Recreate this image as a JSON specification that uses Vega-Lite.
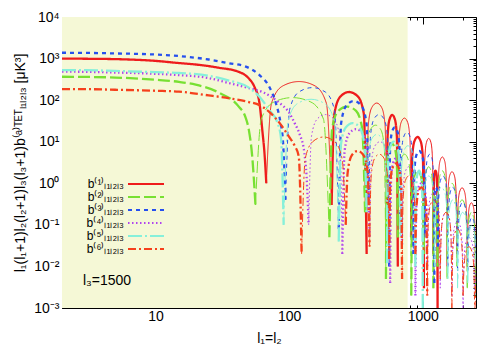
{
"$schema":"https://vega.github.io/schema/vega-lite/v6.json",
"width":414,"height":291,
"autosize":{"type":"none"},
"padding":{"left":62,"top":17,"right":24,"bottom":42},
"background":"white",
"config":{"font":"Liberation Sans","view":{"stroke":null},
 "axis":{"domainColor":"black","tickColor":"black","labelColor":"black","labelFontSize":14,"titleFontSize":14,"titleFontWeight":"normal","titleColor":"black","grid":false}},
"datasets":{
"curves":[
{"s":1,"k":0,"w":1,"x":2,"y":1000},{"s":1,"k":0,"w":1,"x":3,"y":990},{"s":1,"k":0,"w":1,"x":5,"y":970},{"s":1,"k":0,"w":1,"x":10,"y":880},{"s":1,"k":0,"w":1,"x":15,"y":780},{"s":1,"k":0,"w":1,"x":20,"y":720},{"s":1,"k":0,"w":1,"x":30,"y":600},{"s":1,"k":0,"w":1,"x":42,"y":480},{"s":1,"k":0,"w":1,"x":50,"y":330},{"s":1,"k":0,"w":1,"x":55,"y":210},{"s":1,"k":0,"w":1,"x":60,"y":85},{"s":1,"k":0,"w":1,"x":63,"y":19},{"s":1,"k":0,"w":1,"x":65.5,"y":5},{"s":1,"k":0,"w":1,"x":67.5,"y":1},
{"s":1,"k":1,"w":0,"x":67.5,"y":1},{"s":1,"k":1,"w":0,"x":73.8,"y":84},{"s":1,"k":1,"w":0,"x":89.3,"y":218},{"s":1,"k":1,"w":0,"x":118.5,"y":280},{"s":1,"k":1,"w":0,"x":157,"y":218},{"s":1,"k":1,"w":0,"x":190,"y":84},{"s":1,"k":1,"w":0,"x":208,"y":0.3},
{"s":1,"k":2,"w":1,"x":208,"y":0.3},{"s":1,"k":2,"w":1,"x":218,"y":47},{"s":1,"k":2,"w":1,"x":242,"y":122},{"s":1,"k":2,"w":1,"x":281,"y":157},{"s":1,"k":2,"w":1,"x":327,"y":122},{"s":1,"k":2,"w":1,"x":362,"y":47},{"s":1,"k":2,"w":1,"x":380,"y":0.02},
{"s":1,"k":3,"w":0,"x":380,"y":0.02},{"s":1,"k":3,"w":0,"x":391,"y":25.5},{"s":1,"k":3,"w":0,"x":415,"y":66},{"s":1,"k":3,"w":0,"x":452,"y":85},{"s":1,"k":3,"w":0,"x":493,"y":66},{"s":1,"k":3,"w":0,"x":522,"y":25.5},{"s":1,"k":3,"w":0,"x":537,"y":0.15},
{"s":1,"k":4,"w":1,"x":537,"y":0.15},{"s":1,"k":4,"w":1,"x":545,"y":13},{"s":1,"k":4,"w":1,"x":563,"y":34},{"s":1,"k":4,"w":1,"x":591,"y":44},{"s":1,"k":4,"w":1,"x":619,"y":34},{"s":1,"k":4,"w":1,"x":640,"y":13},{"s":1,"k":4,"w":1,"x":650,"y":0.01},
{"s":1,"k":5,"w":0,"x":650,"y":0.01},{"s":1,"k":5,"w":0,"x":662,"y":11},{"s":1,"k":5,"w":0,"x":688,"y":29},{"s":1,"k":5,"w":0,"x":729,"y":37},{"s":1,"k":5,"w":0,"x":771,"y":29},{"s":1,"k":5,"w":0,"x":802,"y":11},{"s":1,"k":5,"w":0,"x":817,"y":0.05},
{"s":1,"k":6,"w":1,"x":817,"y":0.05},{"s":1,"k":6,"w":1,"x":832,"y":3.9},{"s":1,"k":6,"w":1,"x":863,"y":10},{"s":1,"k":6,"w":1,"x":913,"y":13},{"s":1,"k":6,"w":1,"x":966,"y":10},{"s":1,"k":6,"w":1,"x":1002,"y":3.9},{"s":1,"k":6,"w":1,"x":1020,"y":0.003},
{"s":1,"k":7,"w":0,"x":1020,"y":0.003},{"s":1,"k":7,"w":0,"x":1034,"y":3.6},{"s":1,"k":7,"w":0,"x":1063,"y":9.4},{"s":1,"k":7,"w":0,"x":1107,"y":12},{"s":1,"k":7,"w":0,"x":1152,"y":9.4},{"s":1,"k":7,"w":0,"x":1183,"y":3.6},{"s":1,"k":7,"w":0,"x":1200,"y":0.02},
{"s":1,"k":8,"w":1,"x":1200,"y":0.02},{"s":1,"k":8,"w":1,"x":1207,"y":0.6},{"s":1,"k":8,"w":1,"x":1220,"y":1.6},{"s":1,"k":8,"w":1,"x":1244,"y":2},{"s":1,"k":8,"w":1,"x":1268,"y":1.6},{"s":1,"k":8,"w":1,"x":1282,"y":0.6},{"s":1,"k":8,"w":1,"x":1290,"y":0.0005},
{"s":1,"k":9,"w":0,"x":1290,"y":0.0005},{"s":1,"k":9,"w":0,"x":1307,"y":1.3},{"s":1,"k":9,"w":0,"x":1344,"y":3.4},{"s":1,"k":9,"w":0,"x":1400,"y":4.3},{"s":1,"k":9,"w":0,"x":1459,"y":3.4},{"s":1,"k":9,"w":0,"x":1500,"y":1.3},{"s":1,"k":9,"w":0,"x":1520,"y":0.01},
{"s":1,"k":10,"w":0,"x":1520,"y":0.01},{"s":1,"k":10,"w":0,"x":1541,"y":0.57},{"s":1,"k":10,"w":0,"x":1586,"y":1.5},{"s":1,"k":10,"w":0,"x":1654,"y":1.9},{"s":1,"k":10,"w":0,"x":1726,"y":1.5},{"s":1,"k":10,"w":0,"x":1776,"y":0.57},{"s":1,"k":10,"w":0,"x":1800,"y":0.02},
{"s":1,"k":11,"w":0,"x":1800,"y":0.02},{"s":1,"k":11,"w":0,"x":1826,"y":0.23},{"s":1,"k":11,"w":0,"x":1882,"y":0.61},{"s":1,"k":11,"w":0,"x":1968,"y":0.78},{"s":1,"k":11,"w":0,"x":2057,"y":0.61},{"s":1,"k":11,"w":0,"x":2120,"y":0.23},{"s":1,"k":11,"w":0,"x":2150,"y":0.01},
{"s":1,"k":12,"w":0,"x":2150,"y":0.01},{"s":1,"k":12,"w":0,"x":2175,"y":0.1},{"s":1,"k":12,"w":0,"x":2228,"y":0.27},{"s":1,"k":12,"w":0,"x":2309,"y":0.34},{"s":1,"k":12,"w":0,"x":2393,"y":0.27},{"s":1,"k":12,"w":0,"x":2452,"y":0.1},{"s":1,"k":12,"w":0,"x":2480,"y":0.005},{"s":1,"k":12,"w":0,"x":2500,"y":0.02},

{"s":2,"k":0,"w":1,"x":2,"y":365},{"s":2,"k":0,"w":1,"x":3,"y":362},{"s":2,"k":0,"w":1,"x":5,"y":350},{"s":2,"k":0,"w":1,"x":10,"y":310},{"s":2,"k":0,"w":1,"x":15,"y":275},{"s":2,"k":0,"w":1,"x":20,"y":235},{"s":2,"k":0,"w":1,"x":30,"y":150},{"s":2,"k":0,"w":1,"x":42,"y":70},{"s":2,"k":0,"w":1,"x":47,"y":40},{"s":2,"k":0,"w":1,"x":50,"y":19},{"s":2,"k":0,"w":1,"x":53,"y":4.3},{"s":2,"k":0,"w":1,"x":56,"y":0.3},
{"s":2,"k":1,"w":0,"x":56,"y":0.3},{"s":2,"k":1,"w":0,"x":61.9,"y":35},{"s":2,"k":1,"w":0,"x":76.9,"y":90},{"s":2,"k":1,"w":0,"x":105.8,"y":115},{"s":2,"k":1,"w":0,"x":145.5,"y":90},{"s":2,"k":1,"w":0,"x":180.7,"y":35},{"s":2,"k":1,"w":0,"x":200,"y":0.05},
{"s":2,"k":2,"w":1,"x":200,"y":0.05},{"s":2,"k":2,"w":1,"x":210,"y":21},{"s":2,"k":2,"w":1,"x":233,"y":55},{"s":2,"k":2,"w":1,"x":272,"y":70},{"s":2,"k":2,"w":1,"x":317,"y":55},{"s":2,"k":2,"w":1,"x":352,"y":21},{"s":2,"k":2,"w":1,"x":370,"y":0.2},
{"s":2,"k":3,"w":0,"x":370,"y":0.2},{"s":2,"k":3,"w":0,"x":381,"y":7.5},{"s":2,"k":3,"w":0,"x":405,"y":19.5},{"s":2,"k":3,"w":0,"x":443,"y":25},{"s":2,"k":3,"w":0,"x":485,"y":19.5},{"s":2,"k":3,"w":0,"x":515,"y":7.5},{"s":2,"k":3,"w":0,"x":530,"y":0.005},
{"s":2,"k":4,"w":1,"x":530,"y":0.005},{"s":2,"k":4,"w":1,"x":539,"y":2.7},{"s":2,"k":4,"w":1,"x":558,"y":7},{"s":2,"k":4,"w":1,"x":587,"y":9},{"s":2,"k":4,"w":1,"x":618,"y":7},{"s":2,"k":4,"w":1,"x":640,"y":2.7},{"s":2,"k":4,"w":1,"x":650,"y":0.05},
{"s":2,"k":5,"w":0,"x":650,"y":0.05},{"s":2,"k":5,"w":0,"x":662,"y":1.5},{"s":2,"k":5,"w":0,"x":689,"y":3.9},{"s":2,"k":5,"w":0,"x":730,"y":5},{"s":2,"k":5,"w":0,"x":774,"y":3.9},{"s":2,"k":5,"w":0,"x":805,"y":1.5},{"s":2,"k":5,"w":0,"x":820,"y":0.002},
{"s":2,"k":6,"w":1,"x":820,"y":0.002},{"s":2,"k":6,"w":1,"x":834,"y":0.6},{"s":2,"k":6,"w":1,"x":866,"y":1.56},{"s":2,"k":6,"w":1,"x":915,"y":2},{"s":2,"k":6,"w":1,"x":966,"y":1.56},{"s":2,"k":6,"w":1,"x":1002,"y":0.6},{"s":2,"k":6,"w":1,"x":1020,"y":0.02},
{"s":2,"k":7,"w":0,"x":1020,"y":0.02},{"s":2,"k":7,"w":0,"x":1034,"y":0.75},{"s":2,"k":7,"w":0,"x":1063,"y":2},{"s":2,"k":7,"w":0,"x":1107,"y":2.5},{"s":2,"k":7,"w":0,"x":1152,"y":2},{"s":2,"k":7,"w":0,"x":1183,"y":0.75},{"s":2,"k":7,"w":0,"x":1200,"y":0.003},
{"s":2,"k":8,"w":1,"x":1200,"y":0.003},{"s":2,"k":8,"w":1,"x":1207,"y":0.15},{"s":2,"k":8,"w":1,"x":1220,"y":0.4},{"s":2,"k":8,"w":1,"x":1244,"y":0.5},{"s":2,"k":8,"w":1,"x":1268,"y":0.4},{"s":2,"k":8,"w":1,"x":1282,"y":0.15},{"s":2,"k":8,"w":1,"x":1290,"y":0.01},
{"s":2,"k":9,"w":0,"x":1290,"y":0.01},{"s":2,"k":9,"w":0,"x":1307,"y":0.6},{"s":2,"k":9,"w":0,"x":1344,"y":1.56},{"s":2,"k":9,"w":0,"x":1400,"y":2},{"s":2,"k":9,"w":0,"x":1459,"y":1.56},{"s":2,"k":9,"w":0,"x":1500,"y":0.6},{"s":2,"k":9,"w":0,"x":1520,"y":0.005},
{"s":2,"k":10,"w":0,"x":1520,"y":0.005},{"s":2,"k":10,"w":0,"x":1541,"y":0.3},{"s":2,"k":10,"w":0,"x":1586,"y":0.78},{"s":2,"k":10,"w":0,"x":1654,"y":1},{"s":2,"k":10,"w":0,"x":1726,"y":0.78},{"s":2,"k":10,"w":0,"x":1776,"y":0.3},{"s":2,"k":10,"w":0,"x":1800,"y":0.01},
{"s":2,"k":11,"w":0,"x":1800,"y":0.01},{"s":2,"k":11,"w":0,"x":1826,"y":0.12},{"s":2,"k":11,"w":0,"x":1882,"y":0.31},{"s":2,"k":11,"w":0,"x":1968,"y":0.4},{"s":2,"k":11,"w":0,"x":2057,"y":0.31},{"s":2,"k":11,"w":0,"x":2120,"y":0.12},{"s":2,"k":11,"w":0,"x":2150,"y":0.003},
{"s":2,"k":12,"w":0,"x":2150,"y":0.003},{"s":2,"k":12,"w":0,"x":2175,"y":0.06},{"s":2,"k":12,"w":0,"x":2228,"y":0.156},{"s":2,"k":12,"w":0,"x":2309,"y":0.2},{"s":2,"k":12,"w":0,"x":2393,"y":0.156},{"s":2,"k":12,"w":0,"x":2452,"y":0.06},{"s":2,"k":12,"w":0,"x":2480,"y":0.002},{"s":2,"k":12,"w":0,"x":2500,"y":0.01},

{"s":3,"k":0,"w":1,"x":2,"y":1380},{"s":3,"k":0,"w":1,"x":3,"y":1370},{"s":3,"k":0,"w":1,"x":5,"y":1330},{"s":3,"k":0,"w":1,"x":10,"y":1250},{"s":3,"k":0,"w":1,"x":15,"y":1150},{"s":3,"k":0,"w":1,"x":25,"y":950},{"s":3,"k":0,"w":1,"x":35,"y":780},{"s":3,"k":0,"w":1,"x":48,"y":630},{"s":3,"k":0,"w":1,"x":60,"y":400},{"s":3,"k":0,"w":1,"x":71,"y":210},{"s":3,"k":0,"w":1,"x":80,"y":80},{"s":3,"k":0,"w":1,"x":86,"y":30},{"s":3,"k":0,"w":1,"x":90,"y":10},{"s":3,"k":0,"w":1,"x":94,"y":0.4},
{"s":3,"k":1,"w":0,"x":94,"y":0.4},{"s":3,"k":1,"w":0,"x":101,"y":60},{"s":3,"k":1,"w":0,"x":118,"y":156},{"s":3,"k":1,"w":0,"x":149,"y":200},{"s":3,"k":1,"w":0,"x":187,"y":156},{"s":3,"k":1,"w":0,"x":218,"y":60},{"s":3,"k":1,"w":0,"x":235,"y":0.08},
{"s":3,"k":2,"w":1,"x":235,"y":0.08},{"s":3,"k":2,"w":1,"x":245,"y":28},{"s":3,"k":2,"w":1,"x":268,"y":74},{"s":3,"k":2,"w":1,"x":305,"y":95},{"s":3,"k":2,"w":1,"x":347,"y":74},{"s":3,"k":2,"w":1,"x":379,"y":28},{"s":3,"k":2,"w":1,"x":395,"y":0.3},
{"s":3,"k":3,"w":0,"x":395,"y":0.3},{"s":3,"k":3,"w":0,"x":406,"y":13.5},{"s":3,"k":3,"w":0,"x":431,"y":35},{"s":3,"k":3,"w":0,"x":470,"y":45},{"s":3,"k":3,"w":0,"x":513,"y":35},{"s":3,"k":3,"w":0,"x":545,"y":13.5},{"s":3,"k":3,"w":0,"x":560,"y":0.01},
{"s":3,"k":4,"w":1,"x":560,"y":0.01},{"s":3,"k":4,"w":1,"x":569,"y":6.6},{"s":3,"k":4,"w":1,"x":588,"y":17},{"s":3,"k":4,"w":1,"x":617,"y":22},{"s":3,"k":4,"w":1,"x":648,"y":17},{"s":3,"k":4,"w":1,"x":670,"y":6.6},{"s":3,"k":4,"w":1,"x":680,"y":0.1},
{"s":3,"k":5,"w":0,"x":680,"y":0.1},{"s":3,"k":5,"w":0,"x":692,"y":5},{"s":3,"k":5,"w":0,"x":719,"y":13},{"s":3,"k":5,"w":0,"x":760,"y":17},{"s":3,"k":5,"w":0,"x":804,"y":13},{"s":3,"k":5,"w":0,"x":835,"y":5},{"s":3,"k":5,"w":0,"x":850,"y":0.02},
{"s":3,"k":6,"w":1,"x":850,"y":0.02},{"s":3,"k":6,"w":1,"x":864,"y":1.8},{"s":3,"k":6,"w":1,"x":894,"y":4.7},{"s":3,"k":6,"w":1,"x":940,"y":6},{"s":3,"k":6,"w":1,"x":989,"y":4.7},{"s":3,"k":6,"w":1,"x":1023,"y":1.8},{"s":3,"k":6,"w":1,"x":1040,"y":0.05},
{"s":3,"k":7,"w":0,"x":1040,"y":0.05},{"s":3,"k":7,"w":0,"x":1053,"y":1.5},{"s":3,"k":7,"w":0,"x":1082,"y":3.9},{"s":3,"k":7,"w":0,"x":1126,"y":5},{"s":3,"k":7,"w":0,"x":1172,"y":3.9},{"s":3,"k":7,"w":0,"x":1204,"y":1.5},{"s":3,"k":7,"w":0,"x":1220,"y":0.004},
{"s":3,"k":8,"w":1,"x":1220,"y":0.004},{"s":3,"k":8,"w":1,"x":1226,"y":0.24},{"s":3,"k":8,"w":1,"x":1237,"y":0.62},{"s":3,"k":8,"w":1,"x":1259,"y":0.8},{"s":3,"k":8,"w":1,"x":1281,"y":0.62},{"s":3,"k":8,"w":1,"x":1293,"y":0.24},{"s":3,"k":8,"w":1,"x":1300,"y":0.03},
{"s":3,"k":9,"w":0,"x":1300,"y":0.03},{"s":3,"k":9,"w":0,"x":1318,"y":0.45},{"s":3,"k":9,"w":0,"x":1356,"y":1.17},{"s":3,"k":9,"w":0,"x":1415,"y":1.5},{"s":3,"k":9,"w":0,"x":1476,"y":1.17},{"s":3,"k":9,"w":0,"x":1519,"y":0.45},{"s":3,"k":9,"w":0,"x":1540,"y":0.01},
{"s":3,"k":10,"w":0,"x":1540,"y":0.01},{"s":3,"k":10,"w":0,"x":1561,"y":0.24},{"s":3,"k":10,"w":0,"x":1606,"y":0.62},{"s":3,"k":10,"w":0,"x":1674,"y":0.8},{"s":3,"k":10,"w":0,"x":1746,"y":0.62},{"s":3,"k":10,"w":0,"x":1796,"y":0.24},{"s":3,"k":10,"w":0,"x":1820,"y":0.005},
{"s":3,"k":11,"w":0,"x":1820,"y":0.005},{"s":3,"k":11,"w":0,"x":1846,"y":0.1},{"s":3,"k":11,"w":0,"x":1902,"y":0.27},{"s":3,"k":11,"w":0,"x":1988,"y":0.35},{"s":3,"k":11,"w":0,"x":2077,"y":0.27},{"s":3,"k":11,"w":0,"x":2140,"y":0.1},{"s":3,"k":11,"w":0,"x":2170,"y":0.008},
{"s":3,"k":12,"w":0,"x":2170,"y":0.008},{"s":3,"k":12,"w":0,"x":2196,"y":0.045},{"s":3,"k":12,"w":0,"x":2250,"y":0.12},{"s":3,"k":12,"w":0,"x":2330,"y":0.15},{"s":3,"k":12,"w":0,"x":2413,"y":0.12},{"s":3,"k":12,"w":0,"x":2470,"y":0.045},{"s":3,"k":12,"w":0,"x":2500,"y":0.02},

{"s":4,"k":0,"w":1,"x":2,"y":485},{"s":4,"k":0,"w":1,"x":3,"y":480},{"s":4,"k":0,"w":1,"x":5,"y":462},{"s":4,"k":0,"w":1,"x":10,"y":430},{"s":4,"k":0,"w":1,"x":15,"y":400},{"s":4,"k":0,"w":1,"x":25,"y":340},{"s":4,"k":0,"w":1,"x":35,"y":260},{"s":4,"k":0,"w":1,"x":50,"y":195},{"s":4,"k":0,"w":1,"x":65,"y":150},{"s":4,"k":0,"w":1,"x":85,"y":85},{"s":4,"k":0,"w":1,"x":100,"y":50},{"s":4,"k":0,"w":1,"x":110,"y":28},{"s":4,"k":0,"w":1,"x":120,"y":15},{"s":4,"k":0,"w":1,"x":130,"y":5.4},{"s":4,"k":0,"w":1,"x":135,"y":1.5},{"s":4,"k":0,"w":1,"x":140,"y":0.1},
{"s":4,"k":1,"w":0,"x":140,"y":0.1},{"s":4,"k":1,"w":0,"x":147,"y":13.5},{"s":4,"k":1,"w":0,"x":162,"y":35},{"s":4,"k":1,"w":0,"x":187,"y":45},{"s":4,"k":1,"w":0,"x":216,"y":35},{"s":4,"k":1,"w":0,"x":239,"y":13.5},{"s":4,"k":1,"w":0,"x":250,"y":0.02},
{"s":4,"k":2,"w":1,"x":250,"y":0.02},{"s":4,"k":2,"w":1,"x":260,"y":6},{"s":4,"k":2,"w":1,"x":281,"y":15.6},{"s":4,"k":2,"w":1,"x":316,"y":20},{"s":4,"k":2,"w":1,"x":356,"y":15.6},{"s":4,"k":2,"w":1,"x":385,"y":6},{"s":4,"k":2,"w":1,"x":400,"y":0.05},
{"s":4,"k":3,"w":0,"x":400,"y":0.05},{"s":4,"k":3,"w":0,"x":412,"y":3},{"s":4,"k":3,"w":0,"x":437,"y":7.8},{"s":4,"k":3,"w":0,"x":478,"y":10},{"s":4,"k":3,"w":0,"x":522,"y":7.8},{"s":4,"k":3,"w":0,"x":554,"y":3},{"s":4,"k":3,"w":0,"x":570,"y":0.004},
{"s":4,"k":4,"w":1,"x":570,"y":0.004},{"s":4,"k":4,"w":1,"x":579,"y":1.2},{"s":4,"k":4,"w":1,"x":600,"y":3.1},{"s":4,"k":4,"w":1,"x":632,"y":4},{"s":4,"k":4,"w":1,"x":665,"y":3.1},{"s":4,"k":4,"w":1,"x":689,"y":1.2},{"s":4,"k":4,"w":1,"x":700,"y":0.03},
{"s":4,"k":5,"w":0,"x":700,"y":0.03},{"s":4,"k":5,"w":0,"x":713,"y":0.75},{"s":4,"k":5,"w":0,"x":741,"y":1.95},{"s":4,"k":5,"w":0,"x":785,"y":2.5},{"s":4,"k":5,"w":0,"x":831,"y":1.95},{"s":4,"k":5,"w":0,"x":864,"y":0.75},{"s":4,"k":5,"w":0,"x":880,"y":0.002},
{"s":4,"k":6,"w":1,"x":880,"y":0.002},{"s":4,"k":6,"w":1,"x":894,"y":0.3},{"s":4,"k":6,"w":1,"x":926,"y":0.78},{"s":4,"k":6,"w":1,"x":975,"y":1},{"s":4,"k":6,"w":1,"x":1026,"y":0.78},{"s":4,"k":6,"w":1,"x":1062,"y":0.3},{"s":4,"k":6,"w":1,"x":1080,"y":0.01},
{"s":4,"k":7,"w":0,"x":1080,"y":0.01},{"s":4,"k":7,"w":0,"x":1100,"y":0.18},{"s":4,"k":7,"w":0,"x":1142,"y":0.47},{"s":4,"k":7,"w":0,"x":1207,"y":0.6},{"s":4,"k":7,"w":0,"x":1277,"y":0.47},{"s":4,"k":7,"w":0,"x":1326,"y":0.18},{"s":4,"k":7,"w":0,"x":1350,"y":0.003},
{"s":4,"k":8,"w":0,"x":1350,"y":0.003},{"s":4,"k":8,"w":0,"x":1372,"y":0.06},{"s":4,"k":8,"w":0,"x":1419,"y":0.156},{"s":4,"k":8,"w":0,"x":1492,"y":0.2},{"s":4,"k":8,"w":0,"x":1569,"y":0.156},{"s":4,"k":8,"w":0,"x":1623,"y":0.06},{"s":4,"k":8,"w":0,"x":1650,"y":0.002},
{"s":4,"k":9,"w":0,"x":1650,"y":0.002},{"s":4,"k":9,"w":0,"x":1676,"y":0.036},{"s":4,"k":9,"w":0,"x":1732,"y":0.094},{"s":4,"k":9,"w":0,"x":1817,"y":0.12},{"s":4,"k":9,"w":0,"x":1906,"y":0.094},{"s":4,"k":9,"w":0,"x":1970,"y":0.036},{"s":4,"k":9,"w":0,"x":2000,"y":0.001},
{"s":4,"k":10,"w":0,"x":2000,"y":0.001},{"s":4,"k":10,"w":0,"x":2033,"y":0.015},{"s":4,"k":10,"w":0,"x":2104,"y":0.039},{"s":4,"k":10,"w":0,"x":2214,"y":0.05},{"s":4,"k":10,"w":0,"x":2329,"y":0.039},{"s":4,"k":10,"w":0,"x":2410,"y":0.015},{"s":4,"k":10,"w":0,"x":2450,"y":0.002},{"s":4,"k":10,"w":0,"x":2500,"y":0.01},

{"s":5,"k":0,"w":1,"x":2,"y":530},{"s":5,"k":0,"w":1,"x":3,"y":525},{"s":5,"k":0,"w":1,"x":5,"y":505},{"s":5,"k":0,"w":1,"x":10,"y":470},{"s":5,"k":0,"w":1,"x":15,"y":450},{"s":5,"k":0,"w":1,"x":25,"y":385},{"s":5,"k":0,"w":1,"x":35,"y":300},{"s":5,"k":0,"w":1,"x":50,"y":200},{"s":5,"k":0,"w":1,"x":60,"y":120},{"s":5,"k":0,"w":1,"x":71,"y":58},{"s":5,"k":0,"w":1,"x":82,"y":28},{"s":5,"k":0,"w":1,"x":87,"y":12},{"s":5,"k":0,"w":1,"x":91,"y":0.1},
{"s":5,"k":1,"w":0,"x":91,"y":0.1},{"s":5,"k":1,"w":0,"x":98.2,"y":31.5},{"s":5,"k":1,"w":0,"x":115,"y":82},{"s":5,"k":1,"w":0,"x":146,"y":105},{"s":5,"k":1,"w":0,"x":185,"y":82},{"s":5,"k":1,"w":0,"x":218,"y":31.5},{"s":5,"k":1,"w":0,"x":235,"y":0.04},
{"s":5,"k":2,"w":1,"x":235,"y":0.04},{"s":5,"k":2,"w":1,"x":244,"y":8.4},{"s":5,"k":2,"w":1,"x":265,"y":22},{"s":5,"k":2,"w":1,"x":299,"y":28},{"s":5,"k":2,"w":1,"x":337,"y":22},{"s":5,"k":2,"w":1,"x":366,"y":8.4},{"s":5,"k":2,"w":1,"x":380,"y":0.2},
{"s":5,"k":3,"w":0,"x":380,"y":0.2},{"s":5,"k":3,"w":0,"x":391,"y":4.5},{"s":5,"k":3,"w":0,"x":415,"y":11.7},{"s":5,"k":3,"w":0,"x":453,"y":15},{"s":5,"k":3,"w":0,"x":495,"y":11.7},{"s":5,"k":3,"w":0,"x":525,"y":4.5},{"s":5,"k":3,"w":0,"x":540,"y":0.012},
{"s":5,"k":4,"w":1,"x":540,"y":0.012},{"s":5,"k":4,"w":1,"x":550,"y":3},{"s":5,"k":4,"w":1,"x":572,"y":7.8},{"s":5,"k":4,"w":1,"x":606,"y":10},{"s":5,"k":4,"w":1,"x":642,"y":7.8},{"s":5,"k":4,"w":1,"x":668,"y":3},{"s":5,"k":4,"w":1,"x":680,"y":0.05},
{"s":5,"k":5,"w":0,"x":680,"y":0.05},{"s":5,"k":5,"w":0,"x":694,"y":2.4},{"s":5,"k":5,"w":0,"x":725,"y":6.2},{"s":5,"k":5,"w":0,"x":773,"y":8},{"s":5,"k":5,"w":0,"x":825,"y":6.2},{"s":5,"k":5,"w":0,"x":862,"y":2.4},{"s":5,"k":5,"w":0,"x":880,"y":0.01},
{"s":5,"k":6,"w":1,"x":880,"y":0.01},{"s":5,"k":6,"w":1,"x":889,"y":0.6},{"s":5,"k":6,"w":1,"x":908,"y":1.56},{"s":5,"k":6,"w":1,"x":938,"y":2},{"s":5,"k":6,"w":1,"x":969,"y":1.56},{"s":5,"k":6,"w":1,"x":990,"y":0.6},{"s":5,"k":6,"w":1,"x":1000,"y":0.001},
{"s":5,"k":7,"w":0,"x":1000,"y":0.001},{"s":5,"k":7,"w":0,"x":1017,"y":0.45},{"s":5,"k":7,"w":0,"x":1053,"y":1.17},{"s":5,"k":7,"w":0,"x":1109,"y":1.5},{"s":5,"k":7,"w":0,"x":1168,"y":1.17},{"s":5,"k":7,"w":0,"x":1210,"y":0.45},{"s":5,"k":7,"w":0,"x":1230,"y":0.01},
{"s":5,"k":8,"w":0,"x":1230,"y":0.01},{"s":5,"k":8,"w":0,"x":1252,"y":0.24},{"s":5,"k":8,"w":0,"x":1301,"y":0.62},{"s":5,"k":8,"w":0,"x":1376,"y":0.8},{"s":5,"k":8,"w":0,"x":1456,"y":0.62},{"s":5,"k":8,"w":0,"x":1512,"y":0.24},{"s":5,"k":8,"w":0,"x":1540,"y":0.005},
{"s":5,"k":9,"w":0,"x":1540,"y":0.005},{"s":5,"k":9,"w":0,"x":1561,"y":0.12},{"s":5,"k":9,"w":0,"x":1606,"y":0.31},{"s":5,"k":9,"w":0,"x":1674,"y":0.4},{"s":5,"k":9,"w":0,"x":1746,"y":0.31},{"s":5,"k":9,"w":0,"x":1796,"y":0.12},{"s":5,"k":9,"w":0,"x":1820,"y":0.003},
{"s":5,"k":10,"w":0,"x":1820,"y":0.003},{"s":5,"k":10,"w":0,"x":1846,"y":0.06},{"s":5,"k":10,"w":0,"x":1902,"y":0.156},{"s":5,"k":10,"w":0,"x":1988,"y":0.2},{"s":5,"k":10,"w":0,"x":2077,"y":0.156},{"s":5,"k":10,"w":0,"x":2140,"y":0.06},{"s":5,"k":10,"w":0,"x":2170,"y":0.004},
{"s":5,"k":11,"w":0,"x":2170,"y":0.004},{"s":5,"k":11,"w":0,"x":2196,"y":0.03},{"s":5,"k":11,"w":0,"x":2250,"y":0.078},{"s":5,"k":11,"w":0,"x":2330,"y":0.1},{"s":5,"k":11,"w":0,"x":2413,"y":0.078},{"s":5,"k":11,"w":0,"x":2470,"y":0.03},{"s":5,"k":11,"w":0,"x":2500,"y":0.01},

{"s":6,"k":0,"w":1,"x":2,"y":185},{"s":6,"k":0,"w":1,"x":3,"y":184},{"s":6,"k":0,"w":1,"x":5,"y":178},{"s":6,"k":0,"w":1,"x":10,"y":168},{"s":6,"k":0,"w":1,"x":15,"y":160},{"s":6,"k":0,"w":1,"x":25,"y":130},{"s":6,"k":0,"w":1,"x":36,"y":110},{"s":6,"k":0,"w":1,"x":50,"y":90},{"s":6,"k":0,"w":1,"x":60,"y":76},{"s":6,"k":0,"w":1,"x":71,"y":52},{"s":6,"k":0,"w":1,"x":85,"y":28},{"s":6,"k":0,"w":1,"x":100,"y":13},{"s":6,"k":0,"w":1,"x":110,"y":8},{"s":6,"k":0,"w":1,"x":118,"y":4.5},{"s":6,"k":0,"w":1,"x":124,"y":0.02},
{"s":6,"k":1,"w":0,"x":124,"y":0.02},{"s":6,"k":1,"w":0,"x":132,"y":3.9},{"s":6,"k":1,"w":0,"x":150,"y":10},{"s":6,"k":1,"w":0,"x":181,"y":13},{"s":6,"k":1,"w":0,"x":219,"y":10},{"s":6,"k":1,"w":0,"x":249,"y":3.9},{"s":6,"k":1,"w":0,"x":265,"y":0.1},
{"s":6,"k":2,"w":1,"x":265,"y":0.1},{"s":6,"k":2,"w":1,"x":274,"y":1.8},{"s":6,"k":2,"w":1,"x":294,"y":4.7},{"s":6,"k":2,"w":1,"x":326,"y":6},{"s":6,"k":2,"w":1,"x":361,"y":4.7},{"s":6,"k":2,"w":1,"x":387,"y":1.8},{"s":6,"k":2,"w":1,"x":400,"y":0.03},
{"s":6,"k":3,"w":0,"x":400,"y":0.03},{"s":6,"k":3,"w":0,"x":411,"y":1.5},{"s":6,"k":3,"w":0,"x":435,"y":3.9},{"s":6,"k":3,"w":0,"x":473,"y":5},{"s":6,"k":3,"w":0,"x":515,"y":3.9},{"s":6,"k":3,"w":0,"x":545,"y":1.5},{"s":6,"k":3,"w":0,"x":560,"y":0.015},
{"s":6,"k":4,"w":1,"x":560,"y":0.015},{"s":6,"k":4,"w":1,"x":570,"y":0.9},{"s":6,"k":4,"w":1,"x":592,"y":2.3},{"s":6,"k":4,"w":1,"x":626,"y":3},{"s":6,"k":4,"w":1,"x":662,"y":2.3},{"s":6,"k":4,"w":1,"x":688,"y":0.9},{"s":6,"k":4,"w":1,"x":700,"y":0.005},
{"s":6,"k":5,"w":0,"x":700,"y":0.005},{"s":6,"k":5,"w":0,"x":713,"y":0.45},{"s":6,"k":5,"w":0,"x":741,"y":1.17},{"s":6,"k":5,"w":0,"x":785,"y":1.5},{"s":6,"k":5,"w":0,"x":831,"y":1.17},{"s":6,"k":5,"w":0,"x":864,"y":0.45},{"s":6,"k":5,"w":0,"x":880,"y":0.02},
{"s":6,"k":6,"w":1,"x":880,"y":0.02},{"s":6,"k":6,"w":1,"x":894,"y":0.24},{"s":6,"k":6,"w":1,"x":926,"y":0.62},{"s":6,"k":6,"w":1,"x":975,"y":0.8},{"s":6,"k":6,"w":1,"x":1026,"y":0.62},{"s":6,"k":6,"w":1,"x":1062,"y":0.24},{"s":6,"k":6,"w":1,"x":1080,"y":0.002},
{"s":6,"k":7,"w":0,"x":1080,"y":0.002},{"s":6,"k":7,"w":0,"x":1100,"y":0.12},{"s":6,"k":7,"w":0,"x":1142,"y":0.31},{"s":6,"k":7,"w":0,"x":1207,"y":0.4},{"s":6,"k":7,"w":0,"x":1277,"y":0.31},{"s":6,"k":7,"w":0,"x":1326,"y":0.12},{"s":6,"k":7,"w":0,"x":1350,"y":0.005},
{"s":6,"k":8,"w":0,"x":1350,"y":0.005},{"s":6,"k":8,"w":0,"x":1372,"y":0.06},{"s":6,"k":8,"w":0,"x":1419,"y":0.156},{"s":6,"k":8,"w":0,"x":1492,"y":0.2},{"s":6,"k":8,"w":0,"x":1569,"y":0.156},{"s":6,"k":8,"w":0,"x":1623,"y":0.06},{"s":6,"k":8,"w":0,"x":1650,"y":0.001},
{"s":6,"k":9,"w":0,"x":1650,"y":0.001},{"s":6,"k":9,"w":0,"x":1676,"y":0.024},{"s":6,"k":9,"w":0,"x":1732,"y":0.062},{"s":6,"k":9,"w":0,"x":1817,"y":0.08},{"s":6,"k":9,"w":0,"x":1906,"y":0.062},{"s":6,"k":9,"w":0,"x":1970,"y":0.024},{"s":6,"k":9,"w":0,"x":2000,"y":0.002},
{"s":6,"k":10,"w":0,"x":2000,"y":0.002},{"s":6,"k":10,"w":0,"x":2033,"y":0.009},{"s":6,"k":10,"w":0,"x":2104,"y":0.023},{"s":6,"k":10,"w":0,"x":2214,"y":0.03},{"s":6,"k":10,"w":0,"x":2329,"y":0.023},{"s":6,"k":10,"w":0,"x":2410,"y":0.009},{"s":6,"k":10,"w":0,"x":2450,"y":0.001},{"s":6,"k":10,"w":0,"x":2500,"y":0.005}
]},
"layer":[
{"data":{"values":[{"x1":2,"x2":770,"y1":0.001,"y2":10000}]},
 "mark":{"type":"rect","color":"#f5f8d6","clip":true},
 "encoding":{
  "x":{"field":"x1","type":"quantitative","scale":{"type":"log","domain":[2,2500],"nice":false},
   "axis":{"orient":"bottom","title":"l₁=l₂","titlePadding":4,"values":[2,3,4,5,6,7,8,9,10,20,30,40,50,60,70,80,90,100,200,300,400,500,600,700,800,900,1000,2000],
    "labelExpr":"datum.value == 10 || datum.value == 100 || datum.value == 1000 ? format(datum.value, 'd') : ''",
    "tickSize":{"condition":{"test":"datum.value == 10 || datum.value == 100 || datum.value == 1000","value":-7},"value":-3},
    "labelPadding":8,"labelFlush":false,"labelOverlap":false}},
  "x2":{"field":"x2"},
  "y":{"field":"y1","type":"quantitative","scale":{"type":"log","domain":[0.001,10000],"nice":false},
   "axis":{"orient":"left","title":"l₁(l₁+1)l₂(l₂+1)l₃(l₃+1)b⁽ᵃ⁾ᵀᴱᵀₗ₁ₗ₂ₗ₃ [μK³]","titlePadding":6,
    "values":[0.001,0.002,0.003,0.004,0.005,0.006,0.007,0.008,0.009,0.01,0.02,0.03,0.04,0.05,0.06,0.07,0.08,0.09,0.1,0.2,0.3,0.4,0.5,0.6,0.7,0.8,0.9,1,2,3,4,5,6,7,8,9,10,20,30,40,50,60,70,80,90,100,200,300,400,500,600,700,800,900,1000,2000,3000,4000,5000,6000,7000,8000,9000,10000],
    "labelExpr":"abs(log(datum.value)/LN10 - round(log(datum.value)/LN10)) < 0.001 ? '10' + ['⁻³','⁻²','⁻¹','⁰','¹','²','³','⁴'][round(log(datum.value)/LN10)+3] : ''",
    "tickSize":{"condition":{"test":"abs(log(datum.value)/LN10 - round(log(datum.value)/LN10)) < 0.001","value":-7},"value":-3},
    "labelPadding":10,"labelFlush":false,"labelOverlap":false}},
  "y2":{"field":"y2"}}},
{"data":{"name":"curves"},
 "mark":{"type":"line","clip":true,"interpolate":"monotone"},
 "encoding":{
  "x":{"field":"x","type":"quantitative","scale":{"type":"log","domain":[2,2500],"nice":false},"axis":null},
  "y":{"field":"y","type":"quantitative","scale":{"type":"log","domain":[0.001,10000],"nice":false},"axis":null},
  "color":{"field":"s","type":"nominal","scale":{"domain":[1,2,3,4,5,6],"range":["#ee1c1c","#78e032","#2650ee","#b043ee","#86f0da","#f5401c"]},
   "legend":{"orient":"none","legendX":77,"legendY":160,"title":null,"symbolType":"M-3,0L3,0","symbolSize":144,"symbolStrokeWidth":2,"symbolFillColor":"transparent","labelAlign":"right","labelOffset":-29,"labelFontSize":12,"labelColor":"black","rowPadding":0,
    "labelExpr":"'b⁽' + ['¹','²','³','⁴','⁵','⁶'][datum.value - 1] + '⁾ₗ₁ₗ₂ₗ₃'"}},
  "strokeDash":{"field":"s","type":"nominal","scale":{"domain":[1,2,3,4,5,6],"range":[[1,0],[12,4],[4,4],[1.5,2.5],[14,3,2,3],[8,3,2,3]]}},
  "strokeWidth":{"field":"w","type":"ordinal","scale":{"domain":[1,0],"range":[2.3,1]},"legend":null},
  "detail":{"field":"k","type":"nominal"}}},
{"data":{"values":[{"x":4.34,"y":0.0045,"t":"l₃=1500"}]},
 "mark":{"type":"text","fontSize":14,"align":"center","baseline":"middle","color":"black"},
 "encoding":{
  "x":{"field":"x","type":"quantitative","scale":{"type":"log","domain":[2,2500],"nice":false},
   "axis":{"orient":"top","title":null,"labels":false,"values":[2,3,4,5,6,7,8,9,10,20,30,40,50,60,70,80,90,100,200,300,400,500,600,700,800,900,1000,2000],
    "tickSize":{"condition":{"test":"datum.value == 10 || datum.value == 100 || datum.value == 1000","value":-7},"value":-3}}},
  "y":{"field":"y","type":"quantitative","scale":{"type":"log","domain":[0.001,10000],"nice":false},
   "axis":{"orient":"right","title":null,"labels":false,
    "values":[0.001,0.002,0.003,0.004,0.005,0.006,0.007,0.008,0.009,0.01,0.02,0.03,0.04,0.05,0.06,0.07,0.08,0.09,0.1,0.2,0.3,0.4,0.5,0.6,0.7,0.8,0.9,1,2,3,4,5,6,7,8,9,10,20,30,40,50,60,70,80,90,100,200,300,400,500,600,700,800,900,1000,2000,3000,4000,5000,6000,7000,8000,9000,10000],
    "tickSize":{"condition":{"test":"abs(log(datum.value)/LN10 - round(log(datum.value)/LN10)) < 0.001","value":-7},"value":-3}}},
  "text":{"field":"t","type":"nominal"}}}
],
"resolve":{"axis":{"x":"independent","y":"independent"}}
}
